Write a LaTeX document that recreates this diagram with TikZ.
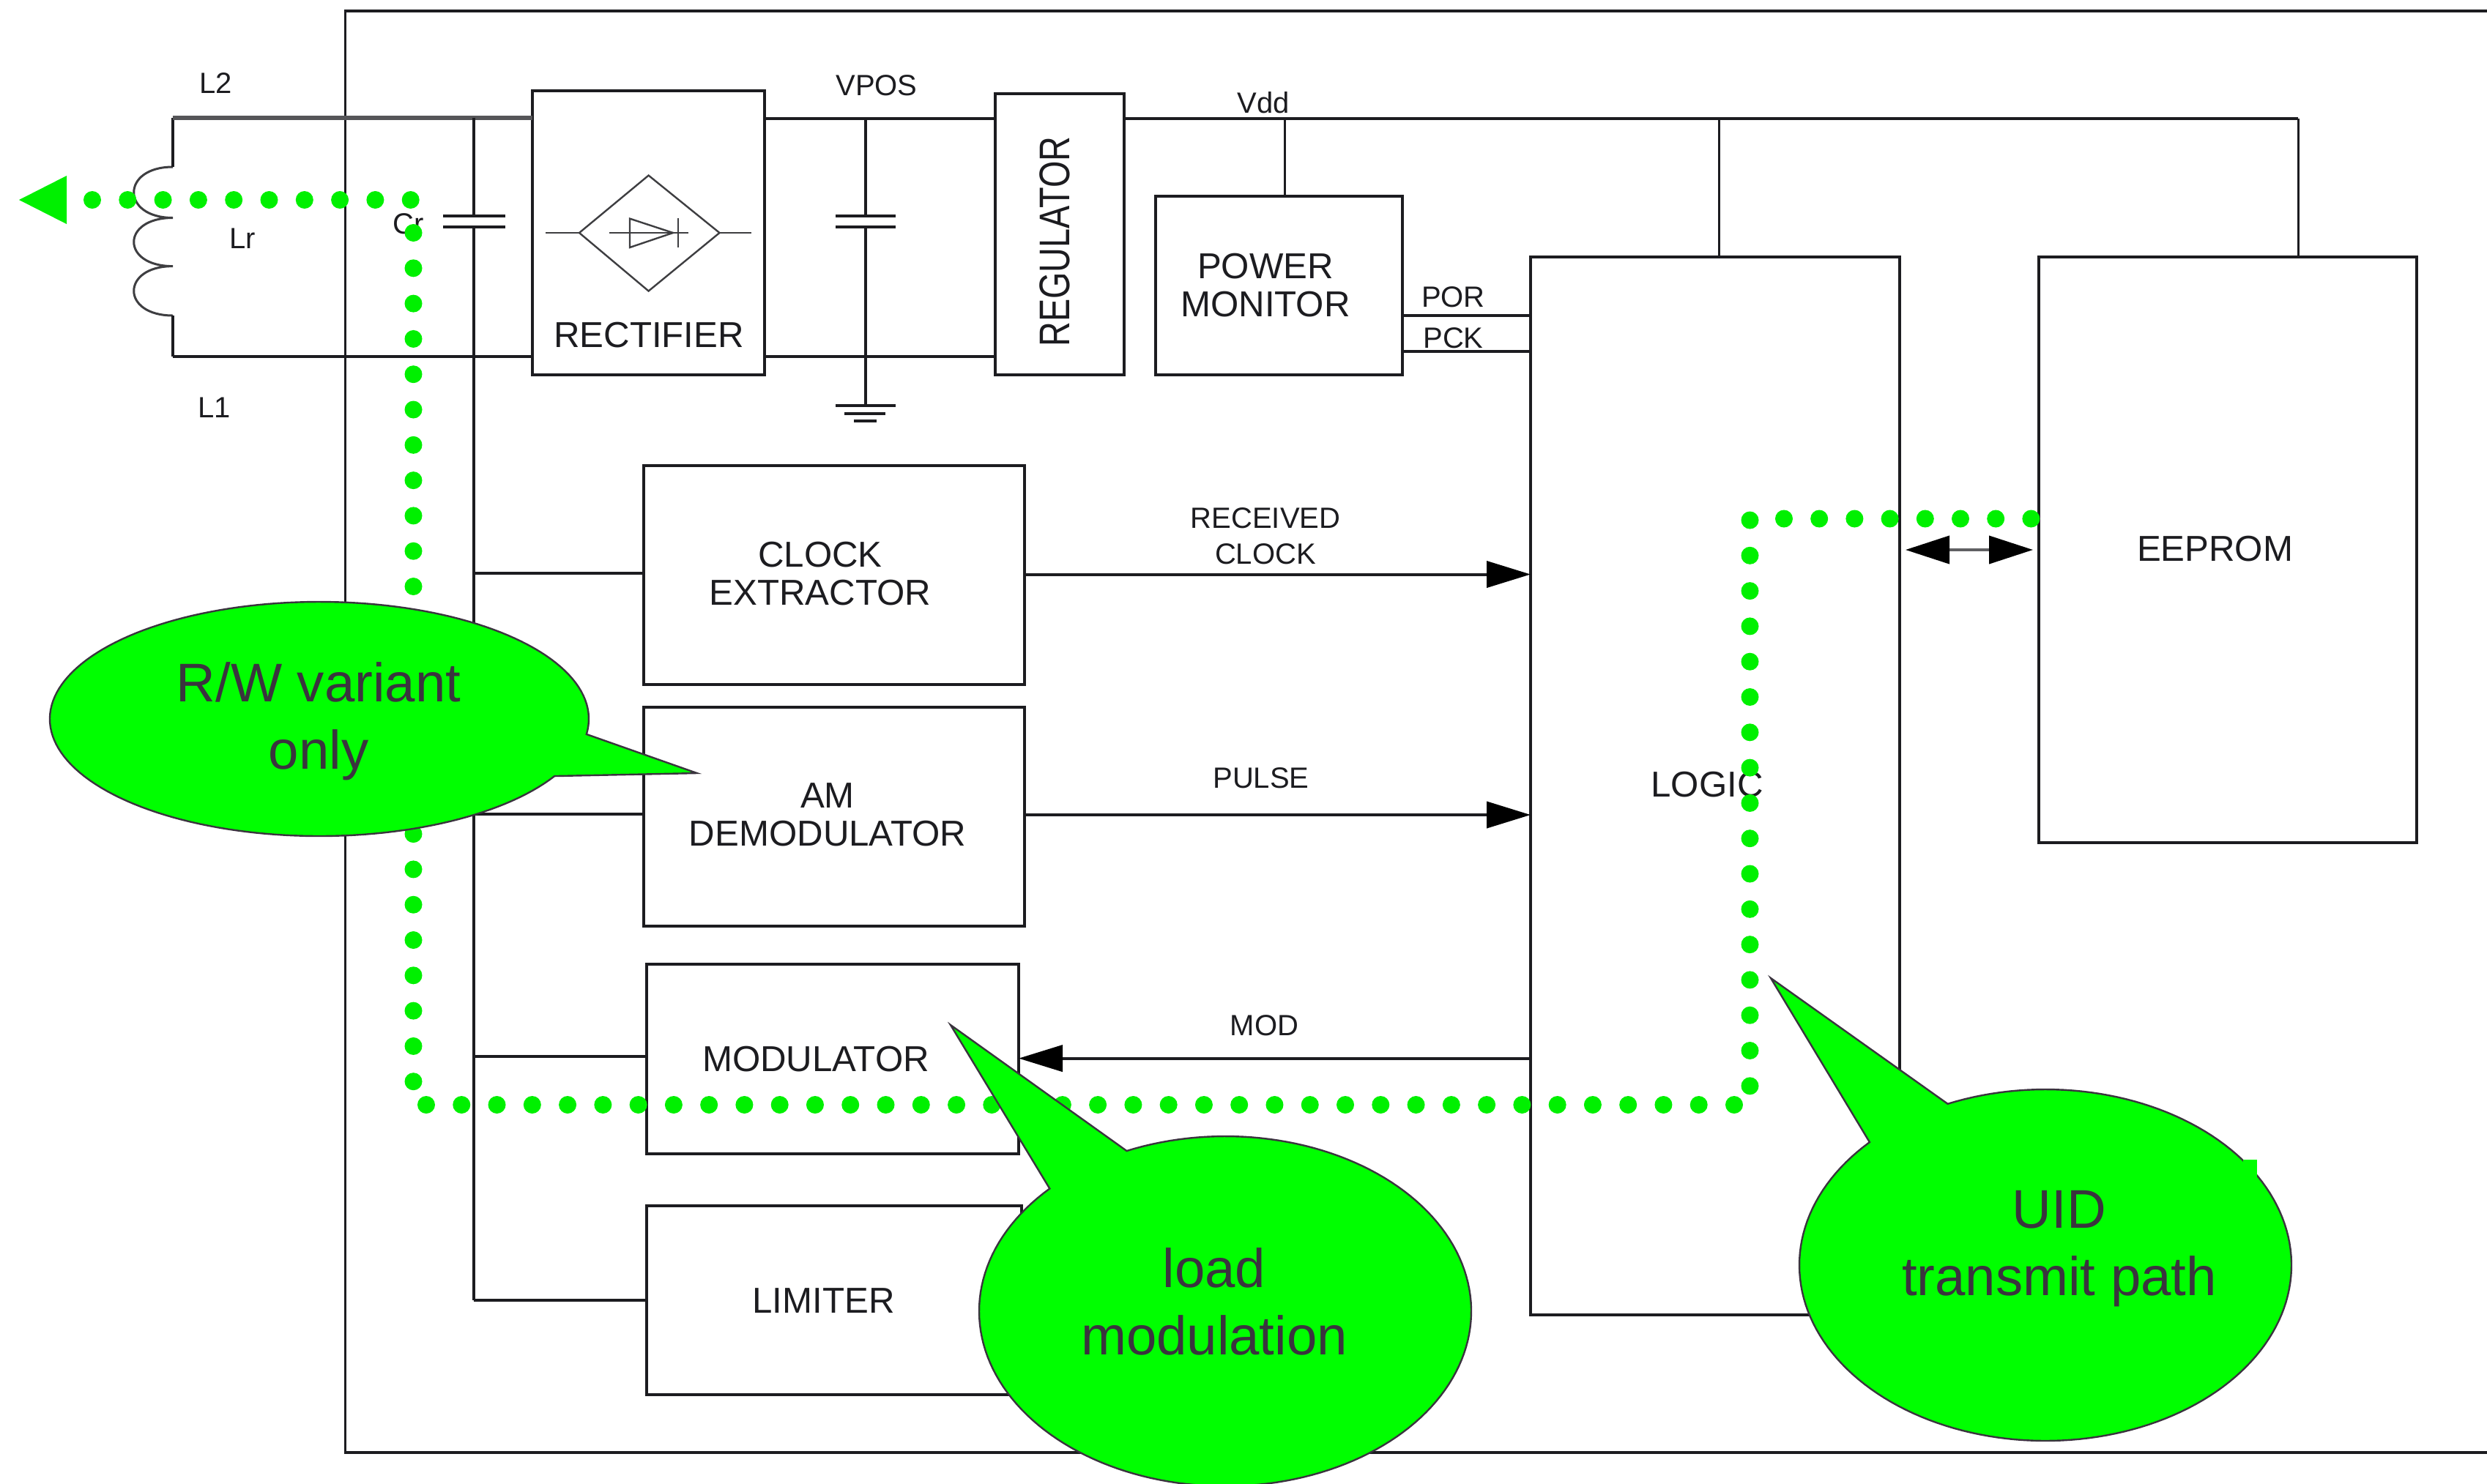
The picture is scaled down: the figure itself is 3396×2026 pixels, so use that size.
\documentclass[tikz,border=0pt]{standalone}
\usepackage{fontspec}
\usepackage{graphicx}
\setmainfont{Liberation Sans}
\usetikzlibrary{arrows.meta,fit}
\definecolor{lime}{RGB}{0,255,0}
\definecolor{dotgreen}{RGB}{0,240,0}
\definecolor{ink}{RGB}{28,28,32}
\definecolor{calloutink}{RGB}{58,52,62}
\tikzset{
  x=.25pt,y=-.25pt,
  wire/.style={draw=ink,line width=1pt},
  thinwire/.style={draw=ink,line width=.75pt},
  heavywire/.style={draw=ink!75,line width=1.5pt},
  boxst/.style={draw=ink,line width=1pt,inner sep=0pt,outer sep=0pt},
  thinbox/.style={draw=ink,line width=.8pt,inner sep=0pt,outer sep=0pt},
  big/.style={text=ink,inner sep=0pt,align=center,font=\fontsize{12.3}{13}\selectfont},
  small/.style={text=ink,inner sep=0pt,align=center,font=\fontsize{10}{12.2}\selectfont},
  calloutshape/.style={fill=lime,draw=calloutink,line width=.6pt,line join=miter},
  callouttext/.style={text=calloutink,inner sep=0pt,align=center,font=\fontsize{18.6}{23}\selectfont},
  sym/.style={draw=ink!85,line width=.6pt},
  headfwd/.style={-{Triangle[length=15pt,width=9pt,fill=black,color=black]}},
  bothheads/.style={{Triangle[length=15pt,width=9.5pt,fill=black,color=black]}-{Triangle[length=15pt,width=9.5pt,fill=black,color=black]}},
}
\newcommand{\calloutpath}[7]{% cx cy rx ry t1 t2 tip
  \draw[calloutshape] plot[domain=#5:#6,samples=160,variable=\t] ({#1+#3*cos(\t)},{#2+#4*sin(\t)}) -- #7 -- cycle;
}
\begin{document}
\begin{tikzpicture}
\useasboundingbox (0,0) rectangle (3396,2026);
\clip (0,0) rectangle (3396,2026);
\fill[white] (0,0) rectangle (3396,2026);

% outer frame
\draw[draw=ink,line width=.8pt] (3396,15) -- (471.5,15) -- (471.5,1984) -- (3396,1984);

% boxes
\node[boxst,fit={(727,124)(1043.5,512)}] (rect) {};
\node[boxst,fit={(1359,128)(1535,511.5)}] (reg) {};
\node[boxst,fit={(1578,268)(1915,511.5)}] (pm) {};
\node[thinbox,fit={(2090,351)(2594,1796)}] (logic) {};
\node[thinbox,fit={(2784,351)(3300,1151)}] (eeprom) {};
\node[boxst,fit={(879,635.5)(1399,935)}] (clk) {};
\node[boxst,fit={(879,966)(1399,1265)}] (am) {};
\node[boxst,fit={(882.6,1317)(1391,1576)}] (mod) {};
\node[boxst,fit={(882.6,1647)(1395,1904.7)}] (lim) {};

% coil
\coordinate (ct) at (236,228);
\coordinate (c1) at (236,297.5);
\coordinate (c2) at (236,363.6);
\coordinate (cb) at (236,431);
\draw[sym,line width=.75pt] (ct) .. controls (165,228) and (165,297.5) .. (c1)
  (c1) .. controls (165,297.5) and (165,363.6) .. (c2)
  (c2) .. controls (165,363.6) and (165,431) .. (cb);

% tank wires
\coordinate (jt) at (236,160.7);
\coordinate (jb) at (236,487);
\draw[wire] (jt) -- (ct);
\draw[wire] (cb) -- (jb);
\draw[heavywire] (jt) -- (rect.west |- 0,160.7);
\draw[wire] (jb) -- (rect.west |- 0,487);

% tuning cap and spine
\coordinate (sp) at (647,160.7);
\coordinate (capa) at (647,294.6);
\coordinate (capb) at (647,310);
\coordinate (spe) at (647,1776);
\draw[wire] (sp) -- (capa);
\draw[wire] (capb) -- (spe);
\draw[wire] (605,294.6) -- (690,294.6) (605,310) -- (690,310);
\draw[wire] (647,783) -- (clk.west |- 0,783);
\draw[wire] (647,1112) -- (am.west |- 0,1112);
\draw[wire] (647,1443) -- (mod.west |- 0,1443);
\draw[wire] (spe) -- (lim.west |- 0,1776);

% bridge symbol
\draw[sym] (885.6,239.6) -- (982.5,318) -- (885.6,397.5) -- (791,318) -- cycle;
\draw[sym] (745,318) -- (791,318) (982.5,318) -- (1026,318);
\draw[sym] (831.6,318) -- (940,318);
\draw[sym] (860,298.6) -- (919,318) -- (860,338) -- cycle;
\draw[sym] (926,297.5) -- (926,338);

% VPOS wires, cap, ground
\draw[wire] (rect.east |- 0,162) -- (reg.west |- 0,162);
\draw[wire] (rect.east |- 0,487) -- (reg.west |- 0,487);
\draw[wire] (1182,162) -- (1182,294.6);
\draw[wire] (1182,310) -- (1182,554);
\draw[wire] (1141,294.6) -- (1223,294.6) (1141,310) -- (1223,310);
\draw[wire] (1141,554) -- (1223,554) (1153,564.6) -- (1209,564.6) (1166,575) -- (1197,575);

% Vdd rail
\coordinate (rail) at (3138,162);
\draw[wire] (reg.east |- 0,162) -- (rail);
\draw[thinwire] (rail) -- (rail |- eeprom.north);
\draw[thinwire] (1754.5,162) -- (1754.5,268);
\draw[thinwire] (2347,162) -- (2347,351);
\draw[wire] (pm.east |- 0,431) -- (logic.west |- 0,431);
\draw[wire] (pm.east |- 0,480) -- (logic.west |- 0,480);

% signal arrows
\draw[wire,headfwd] (clk.east |- 0,784.5) -- (logic.west |- 0,784.5);
\draw[wire,headfwd] (am.east |- 0,1113) -- (logic.west |- 0,1113);
\draw[wire,headfwd] (logic.west |- 0,1445.6) -- (mod.east |- 0,1445.6);
\draw[draw=ink!70,line width=1pt,bothheads,shorten <=2pt,shorten >=2pt] (logic.east |- 0,751) -- (eeprom.west |- 0,751);

% labels
\node[small] (l2) at (295,113.6) {L2};
\node[small] (l1) at (293,557) {L1};
\node[small] (lr) at (331,326) {Lr};
\node[small] (cr) at (558,306) {Cr};
\node[small] (vpos) at (1197,117) {VPOS};
\node[small] (vdd) at (1725,140.6) {Vdd};
\node[small] (por) at (1984.5,406) {POR};
\node[small] (pck) at (1984.5,462) {PCK};
\node[small] (recv) at (1728,732) {RECEIVED\\CLOCK};
\node[small] (pulse) at (1722,1063) {PULSE};
\node[small] (modl) at (1726.5,1401) {MOD};
\node[big] (rectl) at (886,458) {RECTIFIER};
\node[big,rotate=90,font=\fontsize{11.7}{13}\selectfont] (regl) at (1440,330) {\scalebox{1}[1.25]{REGULATOR}};
\node[big] (pml) at (1728,390) {POWER\\MONITOR};
\node[big] (clkl) at (1120,784) {CLOCK\\EXTRACTOR};
\node[big] (aml) at (1130,1113) {AM\\DEMODULATOR};
\node[big] (modlb) at (1114,1446.5) {MODULATOR};
\node[big] (liml) at (1124.5,1777) {LIMITER};
\node[big] (logl) at (2331,1072) {LOGIC};
\node[big] (eel) at (3024.6,750) {EEPROM};

% green path
\fill[dotgreen] (26,273) -- (91,240) -- (91,306) -- cycle;
\foreach \i in {0,...,9} \fill[dotgreen] ({126+48.3*\i},273) circle[radius=12];
\foreach \i in {0,...,24} \fill[dotgreen] (564.5,{318+48.3*\i}) circle[radius=12];
\foreach \i in {0,...,37} \fill[dotgreen] ({582+48.27*\i},1509) circle[radius=12];
\foreach \i in {0,...,16} \fill[dotgreen] (2389.5,{710.5+48.3*\i}) circle[radius=12];
\foreach \i in {0,...,7} \fill[dotgreen] ({2436+48.2*\i},708.5) circle[radius=12];

% callouts
\calloutpath{436}{982}{368}{160}{29.2}{367.5}{(951.6,1056)}
\node[callouttext] (rw) at (435,985) {R/W variant\\only};
\calloutpath{1673}{1791}{336}{239}{246.4}{584.5}{(1298,1400)}
\node[callouttext] (load) at (1658,1778) {load\\modulation};
\calloutpath{2793}{1728}{336}{240}{246.6}{584.4}{(2418,1336)}
\node[callouttext] (uid) at (2812,1706) {UID\\transmit path};
\fill[lime] (3063,1584) rectangle (3082,1608.6);
\end{tikzpicture}
\end{document}
